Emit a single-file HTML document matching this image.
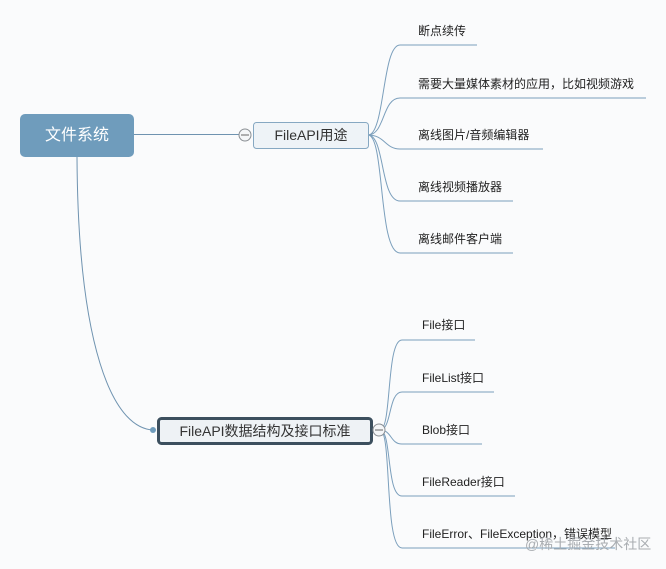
<!DOCTYPE html>
<html><head><meta charset="utf-8">
<style>
html,body{margin:0;padding:0;background:#fafbfc;}
svg{display:block;}
text{font-family:"Liberation Sans","Noto Sans CJK SC",sans-serif;}
</style></head>
<body>
<svg width="666" height="569" viewBox="0 0 666 569" xmlns="http://www.w3.org/2000/svg">
<rect width="666" height="569" fill="#fafbfc"/>
<!-- root connectors -->
<line x1="134" y1="134.5" x2="239" y2="134.5" stroke="#6f93b0" stroke-width="1"/>
<path d="M77 157 C 78 345, 112 428, 153 430" fill="none" stroke="#6f93b0" stroke-width="1"/>
<circle cx="153" cy="430" r="3" fill="#6f9cbc"/>

<!-- root node -->
<rect x="20" y="114" width="114" height="43" rx="5" fill="#6f9cbc"/>
<text x="77" y="140" font-size="16" fill="#ffffff" text-anchor="middle">文件系统</text>

<!-- top branch -->
<g fill="none" stroke="#7b9fbc" stroke-width="1">
<path d="M368 135 C 385 135, 382 45, 400 45 L 477 45"/>
<path d="M368 135 C 385 135, 382 98, 400 98 L 646 98"/>
<path d="M368 135 C 385 135, 385 149, 400 149 L 543 149"/>
<path d="M368 135 C 385 135, 380 201, 400 201 L 513 201"/>
<path d="M368 135 C 385 135, 378 253, 400 253 L 513 253"/>
</g>
<rect x="253.5" y="122.5" width="115" height="26" rx="3" fill="#eef3f7" stroke="#86a8c2" stroke-width="1"/>
<text x="311" y="140" font-size="14" fill="#333" text-anchor="middle">FileAPI用途</text>
<circle cx="245" cy="135" r="6" fill="#f4f6f8" stroke="#8a8f94" stroke-width="1"/>
<line x1="241" y1="135" x2="249" y2="135" stroke="#666" stroke-width="1"/>

<g font-size="12" fill="#222">
<text x="418" y="35">断点续传</text>
<text x="418" y="88">需要大量媒体素材的应用，比如视频游戏</text>
<text x="418" y="139">离线图片/音频编辑器</text>
<text x="418" y="191">离线视频播放器</text>
<text x="418" y="243">离线邮件客户端</text>
</g>

<!-- bottom branch -->
<g fill="none" stroke="#7b9fbc" stroke-width="1">
<path d="M380 430 C 392 430, 386 340, 402 340 L 475 340"/>
<path d="M380 430 C 392 430, 388 392, 402 392 L 494 392"/>
<path d="M380 430 C 392 430, 390 444, 402 444 L 482 444"/>
<path d="M380 430 C 392 430, 386 496, 402 496 L 515 496"/>
<path d="M380 430 C 392 430, 384 548, 402 548 L 615 548"/>
</g>
<rect x="158.5" y="418.5" width="213" height="25" rx="3" fill="#eef2f5" stroke="#3c4f5e" stroke-width="3"/>
<text x="265" y="436" font-size="14" fill="#333" text-anchor="middle">FileAPI数据结构及接口标准</text>
<circle cx="379" cy="430" r="6" fill="#f4f6f8" stroke="#8a8f94" stroke-width="1"/>
<line x1="375" y1="430" x2="383" y2="430" stroke="#666" stroke-width="1"/>

<g font-size="12" fill="#222">
<text x="422" y="329">File接口</text>
<text x="422" y="382">FileList接口</text>
<text x="422" y="434">Blob接口</text>
<text x="422" y="486">FileReader接口</text>
<text x="422" y="538">FileError、FileException，错误模型</text>
</g>

<!-- watermark -->
<text x="525" y="549" font-size="14" fill="#a9adb1">@稀土掘金技术社区</text>
</svg>
</body></html>
